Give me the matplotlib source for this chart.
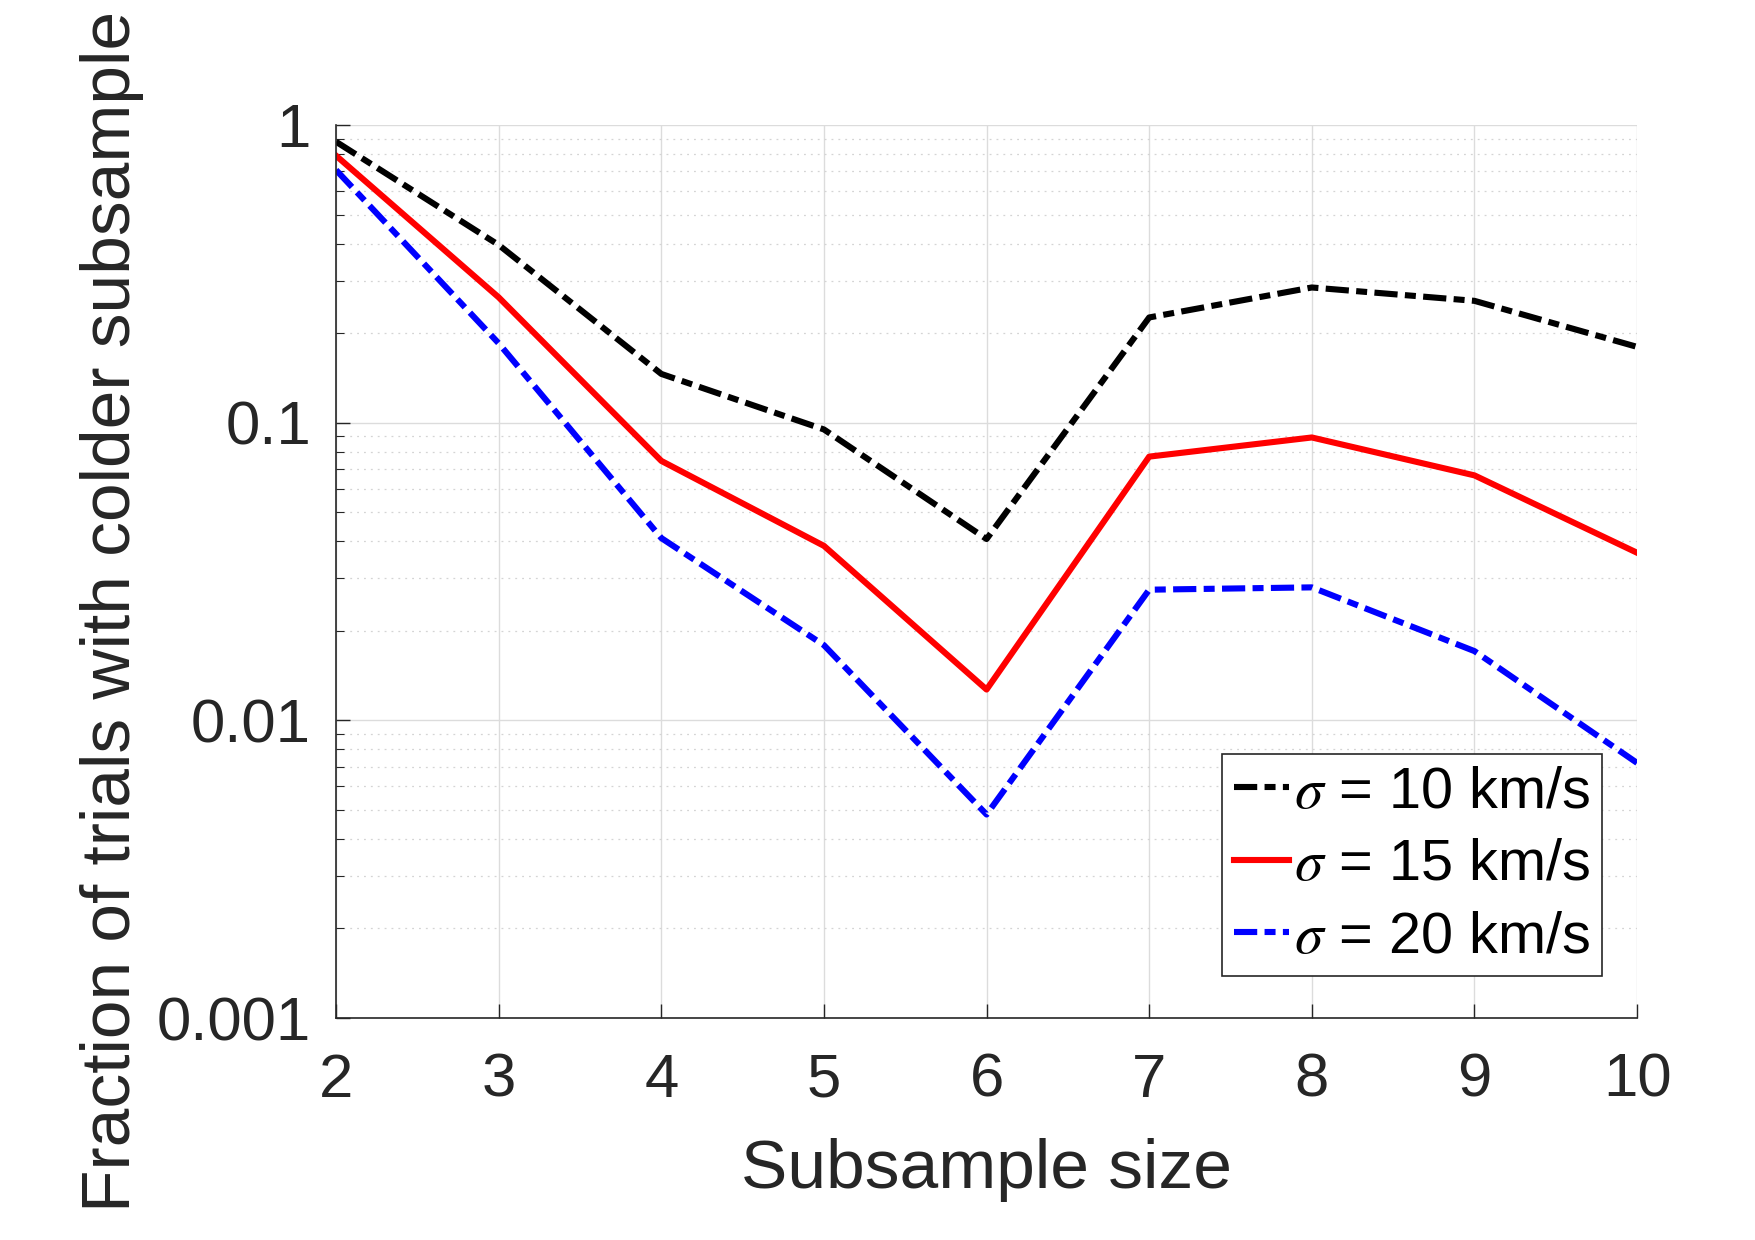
import numpy as np
import matplotlib.pyplot as plt
from matplotlib.ticker import LogLocator, NullFormatter

plt.rcParams['font.family'] = ['Liberation Sans', 'DejaVu Sans']
plt.rcParams['mathtext.fontset'] = 'stix'

subsample_size = [2, 3, 4, 5, 6, 7, 8, 9, 10]
frac_sigma10 = [0.88, 0.396, 0.146, 0.095, 0.0407, 0.226, 0.285, 0.257, 0.180]
frac_sigma15 = [0.79, 0.264, 0.0745, 0.0386, 0.0127, 0.077, 0.0893, 0.0666, 0.0366]
frac_sigma20 = [0.707, 0.185, 0.041, 0.0179, 0.00483, 0.0275, 0.028, 0.0171, 0.0072]
labels = [r"$\sigma$ = 10 km/s", r"$\sigma$ = 15 km/s", r"$\sigma$ = 20 km/s"]
ytick_vals = [0.001, 0.01, 0.1, 1]
ytick_labels = ["0.001", "0.01", "0.1", "1"]

fig = plt.figure(figsize=(17.55, 12.40), dpi=100)
ax = fig.add_axes([0.1915, 0.179, 0.7413, 0.720])

lw = 4.4
dashdot = (3.8, 1.2, 1.8, 1.2)
ax.plot(subsample_size, frac_sigma10, color="black", lw=lw, dashes=dashdot, label=labels[0])
ax.plot(subsample_size, frac_sigma15, color="red", lw=lw, label=labels[1])
ax.plot(subsample_size, frac_sigma20, color="blue", lw=lw, dashes=dashdot, label=labels[2])

ax.set_yscale("log")
ax.set_ylim(0.001, 1)
ax.set_xlim(2, 10)
ax.set_xticks(subsample_size)
ax.set_yticks(ytick_vals)
ax.set_yticklabels(ytick_labels)
ax.yaxis.set_minor_locator(LogLocator(base=10, subs=np.arange(2, 10), numticks=20))
ax.yaxis.set_minor_formatter(NullFormatter())

dark = "#262626"
for s in ["top", "right"]:
    ax.spines[s].set_visible(False)
for s in ["left", "bottom"]:
    ax.spines[s].set_color(dark)
    ax.spines[s].set_linewidth(1.2)

ax.tick_params(axis="both", which="both", direction="in", colors=dark, labelsize=44.5)
ax.tick_params(axis="x", pad=25)
ax.tick_params(axis="y", pad=18)
ax.tick_params(axis="both", which="major", length=10, width=1.0)
ax.tick_params(axis="y", which="minor", length=6, width=0.8)

# light solid major grid, dotted minor grid on the log axis
ax.grid(True, which="major", color="#dcdcdc", lw=1.0, ls="-")
ax.grid(True, which="minor", axis="y", color="#d4d4d4", lw=0.9, ls=(0, (1.5, 4)))
ax.set_axisbelow(True)

ax.set_xlabel("Subsample size", fontsize=50, color=dark, labelpad=20)
ax.set_ylabel("Fraction of trials with colder subsample", fontsize=50, color=dark)
ax.yaxis.set_label_coords(-0.148, 0.455)

leg = ax.legend(loc="lower right", bbox_to_anchor=(0.973, 0.047), borderaxespad=0,
                fontsize=41.5, handlelength=0.95, handletextpad=0.1, borderpad=0.2,
                labelspacing=0.32, fancybox=False, framealpha=1, edgecolor=dark)
leg.get_frame().set_linewidth(1.2)

fig.savefig("out.png", dpi=100)
